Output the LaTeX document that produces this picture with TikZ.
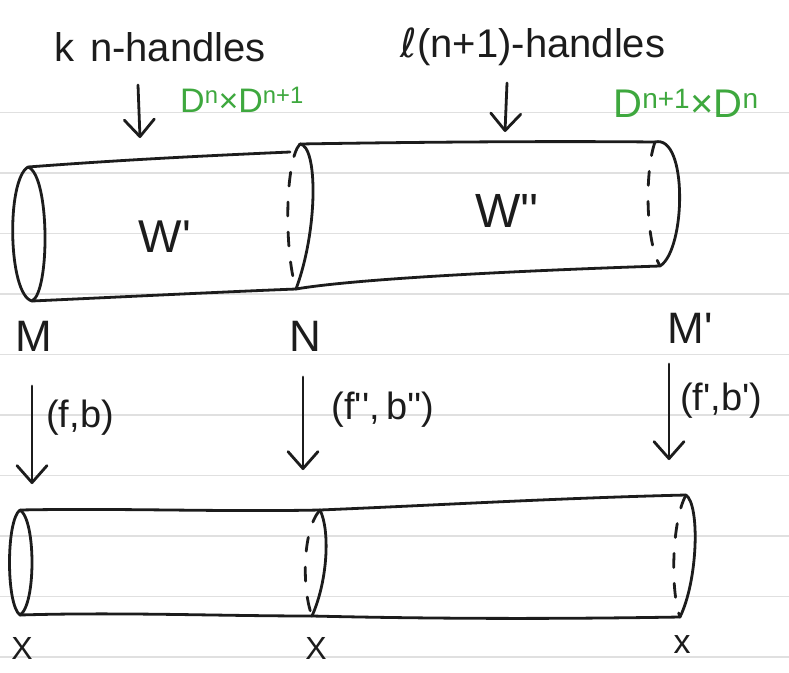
\documentclass[tikz,border=0pt]{standalone}
\usepackage{fontspec}
\setmainfont{Liberation Sans}
\newfontfamily\dejavu{DejaVu Sans}
\usetikzlibrary{arrows.meta}
\definecolor{ink}{RGB}{28,28,28}
\definecolor{handgreen}{RGB}{62,168,62}
\definecolor{ruleline}{RGB}{224,224,224}
\newcommand\pr{\textquotesingle}
\begin{document}
\begin{tikzpicture}[x=1pt,y=-1pt,
  inkline/.style={draw=ink, line width=2.8pt, line cap=round, line join=round},
  hidden/.style={inkline, dash pattern=on 14pt off 16pt},
  lab/.style={inner sep=0pt, text=ink},
  grn/.style={inner sep=0pt, text=handgreen},
  harrow/.style={inkline, -{Straight Barb[length=17pt,width=30pt,round]}},
  ruled/.style={draw=ruleline, line width=1.2pt}
]
\useasboundingbox (0,0) rectangle (789,672);
\fill[white] (0,0) rectangle (789,672);
\foreach \yy in {112.5,173,233.5,294,354.5,415,475.5,536,596.5,657}
  \draw[ruled] (0,\yy) -- (789,\yy);

% ---------- top labels ----------
\node[lab, font=\fontsize{40}{48}\selectfont] (khandles) at (160,47) {k\hspace{0.4em}n-handles};
\node[lab, font=\fontsize{40}{48}\selectfont] (lhandles) at (533,47) {{\dejavu ℓ}(n+1)-handles};
\node[grn, font=\fontsize{34}{40}\selectfont] (dleft) at (242,100) {D\textsuperscript{n}×D\textsuperscript{n+1}};
\node[grn, font=\fontsize{40}{48}\selectfont] (dright) at (686,103) {D\textsuperscript{n+1}×D\textsuperscript{n}};

\coordinate (a1s) at (138,85);  \coordinate (a1e) at (140,138);
\coordinate (a2s) at (507,83);  \coordinate (a2e) at (505,132);
\draw[harrow] (a1s) -- (a1e);
\draw[harrow] (a2s) -- (a2e);

% ---------- top cylinder W' ----------
\draw[inkline] (28,167) .. controls (6,180) and (8,295) .. (32,301)
               .. controls (50,292) and (50,175) .. (28,167);
\draw[inkline] (28,167) .. controls (120,160) and (200,156) .. (290,152);
\draw[inkline] (32,301) .. controls (120,297) and (220,292) .. (296,289);
\draw[inkline] (300,144) .. controls (318,146) and (318,230) .. (296,289);
\draw[hidden] (300,144) .. controls (285,160) and (284,250) .. (296,289);

% ---------- top cylinder W'' ----------
\draw[inkline] (300,144) .. controls (420,142) and (550,141) .. (655,142);
\draw[inkline] (296,289) .. controls (360,278) and (540,270) .. (660,266);
\draw[inkline] (655,142) .. controls (688,134) and (686,250) .. (660,266);
\draw[hidden] (655,142) .. controls (645,170) and (645,240) .. (660,266);

\node[lab, font=\fontsize{46}{54}\selectfont] (wone) at (165,237) {W\pr};
\node[lab, font=\fontsize{48}{56}\selectfont] (wtwo) at (507,211) {W\pr\pr};

% ---------- boundary labels ----------
\node[lab, font=\fontsize{44}{52}\selectfont] (lM) at (34,336) {M};
\node[lab, font=\fontsize{44}{52}\selectfont] (lN) at (305,336) {N};
\node[lab, font=\fontsize{44}{52}\selectfont] (lMp) at (690,328) {M\pr};

% ---------- vertical maps ----------
\coordinate (b1s) at (32,386);  \coordinate (b1e) at (32,484);
\coordinate (b2s) at (303,377); \coordinate (b2e) at (303,470);
\coordinate (b3s) at (669,364); \coordinate (b3e) at (669,460);
\draw[harrow] (b1s) -- (b1e);
\draw[harrow] (b2s) -- (b2e);
\draw[harrow] (b3s) -- (b3e);
\node[lab, font=\fontsize{38}{46}\selectfont] (mapfb) at (80,418) {(f,b)};
\node[lab, font=\fontsize{38}{46}\selectfont] (mapfbpp) at (383,410) {(f\pr\pr,\,b\pr\pr)};
\node[lab, font=\fontsize{38}{46}\selectfont, anchor=west] (mapfbp) at (680,401) {(f\pr,b\pr)};

% ---------- bottom cylinder ----------
\draw[inkline] (20,510) .. controls (6,520) and (6,605) .. (20,615)
               .. controls (36,605) and (36,520) .. (20,510);
\draw[inkline] (20,510) .. controls (120,508) and (220,512) .. (320,510);
\draw[inkline] (320,510) .. controls (440,505) and (560,498) .. (686,495);
\draw[inkline] (20,615) .. controls (120,612) and (220,616) .. (312,616);
\draw[inkline] (312,616) .. controls (440,619) and (560,619) .. (680,617);
\draw[inkline] (320,510) .. controls (330,530) and (328,580) .. (312,616);
\draw[hidden] (320,510) .. controls (302,530) and (302,590) .. (312,616);
\draw[inkline] (686,495) .. controls (700,505) and (698,580) .. (680,617);
\draw[hidden] (686,495) .. controls (672,520) and (670,590) .. (680,617);

\node[lab, font=\fontsize{32}{38}\selectfont] (x1) at (22,648) {X};
\node[lab, font=\fontsize{32}{38}\selectfont] (x2) at (316,648) {X};
\node[lab, font=\fontsize{34}{40}\selectfont] (x3) at (682,645) {x};
\end{tikzpicture}
\end{document}
